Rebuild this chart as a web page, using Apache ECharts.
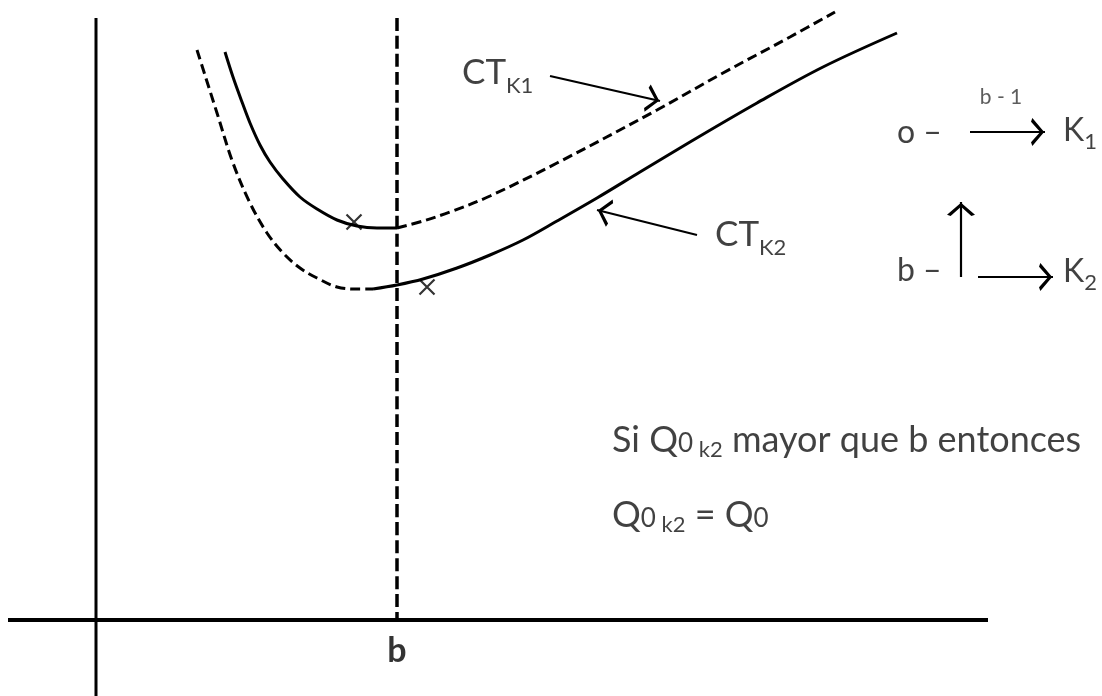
<!DOCTYPE html>
<html>
<head>
<meta charset="utf-8">
<title>CT K1 / CT K2</title>
<script src="https://cdn.jsdelivr.net/npm/echarts@6.0.0/dist/echarts.min.js"></script>
<style>
  html, body { margin: 0; padding: 0; background: #fff; }
  #grafico { width: 1102px; height: 696px; }
</style>
</head>
<body>
<div id="grafico"></div>
<script>
// curva CT K1 (tramo continuo y tramo punteado)
const ctK1Continua = [[12.9,56.8],[13.7,54.3],[14.6,51.8],[15.4,49.7],[16.4,47.5],[17.4,45.8],[18.7,44.1],
  [20.4,42.3],[22.1,41.1],[24.1,40.0],[26.1,39.4],[28.1,39.2],[30.1,39.2]]
const ctK1Punteada = [[30.1,39.2],[32.7,39.9],[35.4,40.8],[39.4,42.4],[46.1,45.7],[56.1,51.0],[62.7,54.7],
  [69.4,58.3],[73.9,60.8]]
// curva CT K2
const ctK2Punteada = [[10.1,57.0],[12.1,50.7],[13.7,45.7],[15.4,41.7],[17.1,38.7],[18.7,36.7],[20.4,35.2],
  [22.1,34.2],[24.1,33.3],[26.1,33.1],[27.7,33.1]]
const ctK2Continua = [[27.7,33.1],[30.1,33.5],[32.7,34.1],[36.1,35.2],[39.4,36.5],[42.7,38.0],[46.1,39.9],
  [50.1,42.2],[54.4,44.8],[59.4,47.8],[66.1,51.7],[72.7,55.3],[80.1,58.7]]
// minimos marcados con una x
const minimos = [[25.8,39.8],[33.1,33.3]]
// cantidad b
const b = 30.1
const ejeX = [[-8.8,0],[89.2,0]]
const ejeY = [[0,60.2],[0,-7.6]]
const lineaB = [[b,60.2],[b,0]]
// flechas [desde, hasta]
const flechas = [
  [[45.4,54.4],[56.4,51.9]],
  [[60.1,38.5],[50.1,41.0]],
  [[87.4,48.8],[94.9,48.8]],
  [[86.5,34.3],[86.5,41.8]],
  [[88.2,34.3],[95.7,34.3]]
]
// textos [x, y, texto, alineacion]
const textos = [
  [36.6,54.7,'{a|CT}{s|K1}','left'],
  [61.9,38.5,'{a|CT}{s|K2}','left'],
  [90.5,52.3,'{p|b - 1}','center'],
  [80.1,48.7,'{m|o –}','left'],
  [96.7,48.9,'{m|K}{i|1}','left'],
  [80.1,34.9,'{m|b –}','left'],
  [96.7,34.8,'{m|K}{i|2}','left'],
  [51.6,18.0,'{t|Si Q}{z|0}{k| k2}{t| mayor que b entonces}','left'],
  [51.6,10.5,'{t|Q}{z|0}{k| k2}{t| = Q}{z|0}','left'],
  [b,-3.1,'{bb|b}','center']
]

const chevron = 'path://M5,0 L5.01,0 L5,0.01 Z M5,10 L10,18 L8.7,18.9 L5,12.7 L1.3,18.9 L0,18 Z'
const fuente = 'Lato'
const tinta = '#111'

let myChart = echarts.init(document.getElementById('grafico'))

function linea (datos, ancho, tipo) {
  return {
    type: 'line',
    data: datos,
    smooth: 0.35,
    symbol: 'none',
    silent: true,
    lineStyle: {color: '#000', width: ancho, type: tipo}
  }
}

myChart.setOption({
  animation: false,
  grid: {left: 0, right: 0, top: 0, bottom: 0},
  xAxis: {type: 'value', min: -9.6, max: 100.6, show: false},
  yAxis: {type: 'value', min: -7.6, max: 62, show: false},
  series: [
    linea(ejeX, 4, 'solid'),
    linea(ejeY, 3, 'solid'),
    linea(lineaB, 3.5, [13, 5]),
    linea(ctK1Continua, 3, 'solid'),
    linea(ctK1Punteada, 3, [10, 5]),
    linea(ctK2Punteada, 3, [10, 5]),
    linea(ctK2Continua, 3, 'solid'),
    {
      type: 'scatter',
      data: minimos,
      symbol: 'path://M0,0 L10,10 M10,0 L0,10',
      symbolSize: 15,
      silent: true,
      itemStyle: {color: 'none', borderColor: '#000', borderWidth: 2.2}
    },
    {
      type: 'lines',
      coordinateSystem: 'cartesian2d',
      data: flechas.map(f => ({coords: f})),
      symbol: ['none', chevron],
      symbolSize: [15, 28],
      silent: true,
      lineStyle: {color: '#000', width: 2.2, opacity: 1}
    },
    {
      type: 'scatter',
      symbolSize: 0,
      silent: true,
      data: textos.map(t => ({
        value: [t[0], t[1]],
        label: {formatter: t[2], align: t[3]}
      })),
      label: {
        show: true,
        position: 'inside',
        verticalAlign: 'middle',
        color: tinta,
        fontFamily: fuente,
        rich: {
          a: {fontSize: 35, fontFamily: fuente, color: tinta},
          s: {fontSize: 22, fontFamily: fuente, color: tinta, padding: [25, 0, 0, 0]},
          t: {fontSize: 36, fontFamily: fuente, color: tinta},
          z: {fontSize: 26, fontFamily: fuente, color: tinta, padding: [8, 0, 0, 0]},
          k: {fontSize: 22, fontFamily: fuente, color: tinta, padding: [20, 0, 0, 0]},
          m: {fontSize: 32, fontFamily: fuente, color: tinta},
          i: {fontSize: 22, fontFamily: fuente, color: tinta, padding: [22, 0, 0, 0]},
          p: {fontSize: 21, fontFamily: fuente, color: '#333'},
          bb: {fontSize: 34, fontFamily: fuente, fontWeight: 'bold', color: '#000'}
        }
      }
    }
  ]
})
</script>
</body>
</html>
